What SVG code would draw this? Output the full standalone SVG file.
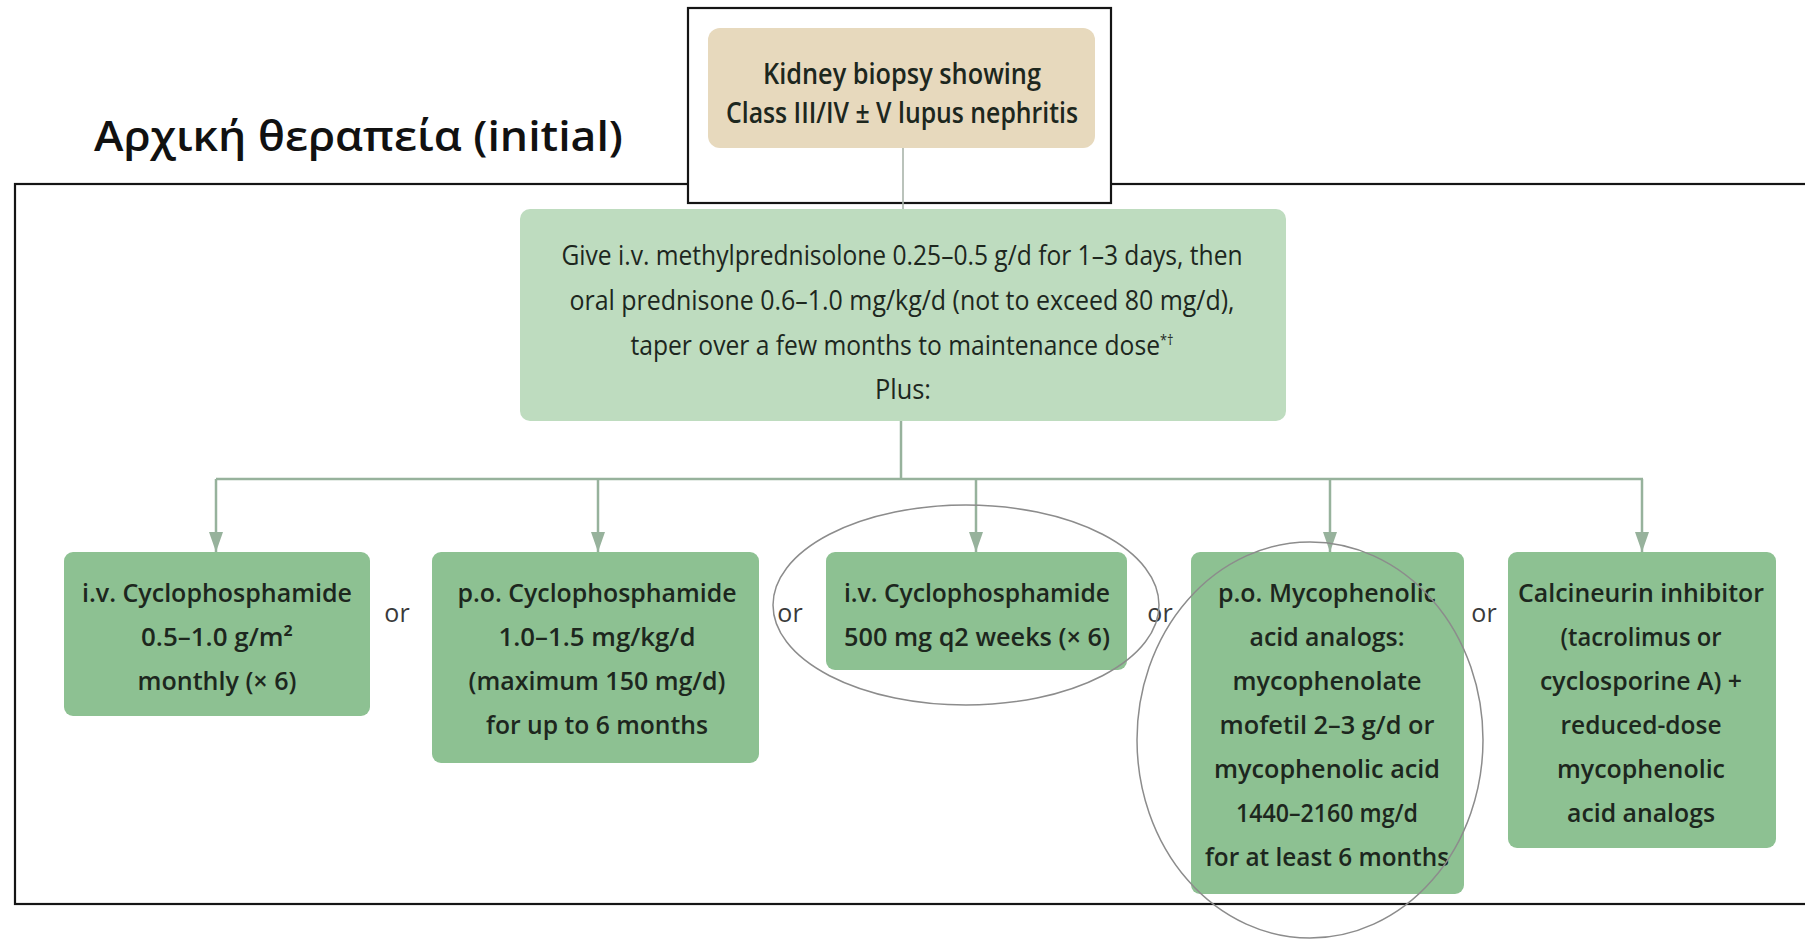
<svg xmlns="http://www.w3.org/2000/svg" width="1805" height="941" viewBox="0 0 1805 941">
  <defs>
    <style>
      .frame{fill:none;stroke:#151515;stroke-width:2.2}
      .topframe{fill:#ffffff;stroke:#151515;stroke-width:2.2}
      .beige{fill:#e7d9bd}
      .light{fill:#bedcbf}
      .dark{fill:#8dc192}
      .t{font-family:"Open Sans","Liberation Sans",sans-serif;fill:#1d271e;text-anchor:middle}
      .b{font-weight:600;font-size:25px}
      .m{font-weight:400;font-size:27px}
      .k{font-weight:600;font-size:29px}
      .or{font-family:"Open Sans","Liberation Sans",sans-serif;font-size:25px;fill:#3a3a3a;text-anchor:middle}
      .title{font-family:"Open Sans","Liberation Sans",sans-serif;font-weight:600;font-size:42px;fill:#111}
      .wire{fill:none;stroke:#97b29c;stroke-width:2.5}
      .stem{fill:none;stroke:#a9b4aa;stroke-width:1.6}
      .ring{fill:none;stroke:#8c8c8c;stroke-width:1.5}
    </style>
    <marker id="arrow" markerUnits="userSpaceOnUse" markerWidth="20" markerHeight="14" viewBox="0 0 20 14" refX="20" refY="7" orient="auto">
      <path d="M0,0 L20,7 L0,14 z" fill="#97b29c"/>
    </marker>
  </defs>

  <rect width="1805" height="941" fill="#ffffff"/>

  <!-- heading -->
  <text class="title" x="94" y="151" textLength="529" lengthAdjust="spacingAndGlyphs">Αρχική θεραπεία (initial)</text>

  <!-- outer frame (runs past the right edge) -->
  <rect class="frame" x="15" y="184" width="1800" height="720"/>

  <!-- frame around the starting node -->
  <rect class="topframe" x="688" y="8" width="423" height="195"/>

  <!-- connectors -->
  <g id="connectors">
    <line class="stem" x1="903" y1="147" x2="903" y2="209"/>
    <line class="wire" x1="901" y1="420" x2="901" y2="479"/>
    <line class="wire" x1="216" y1="479" x2="1643" y2="479"/>
    <line class="wire" x1="216" y1="479" x2="216" y2="552" marker-end="url(#arrow)"/>
    <line class="wire" x1="598" y1="479" x2="598" y2="552" marker-end="url(#arrow)"/>
    <line class="wire" x1="976" y1="479" x2="976" y2="552" marker-end="url(#arrow)"/>
    <line class="wire" x1="1330" y1="479" x2="1330" y2="552" marker-end="url(#arrow)"/>
    <line class="wire" x1="1642" y1="479" x2="1642" y2="552" marker-end="url(#arrow)"/>
  </g>

  <!-- biopsy -->
  <g id="biopsy">
    <rect class="beige" x="708" y="28" width="387" height="120" rx="12"/>
    <text class="t k" x="902" y="84" textLength="278" lengthAdjust="spacingAndGlyphs">Kidney biopsy showing</text>
    <text class="t k" x="902" y="123" textLength="352" lengthAdjust="spacingAndGlyphs">Class III/IV ± V lupus nephritis</text>
  </g>

  <!-- steroids -->
  <g id="steroids">
    <rect class="light" x="520" y="209" width="766" height="212" rx="10"/>
    <text class="t m" x="902" y="265" textLength="681" lengthAdjust="spacingAndGlyphs">Give i.v. methylprednisolone 0.25–0.5 g/d for 1–3 days, then</text>
    <text class="t m" x="902" y="310" textLength="665" lengthAdjust="spacingAndGlyphs">oral prednisone 0.6–1.0 mg/kg/d (not to exceed 80 mg/d),</text>
    <text class="t m" x="902" y="355" textLength="543" lengthAdjust="spacingAndGlyphs">taper over a few months to maintenance dose<tspan font-size="14" baseline-shift="10">*†</tspan></text>
    <text class="t m" x="903" y="399" textLength="56" lengthAdjust="spacingAndGlyphs">Plus:</text>
  </g>

  <!-- option 1 -->
  <g id="ivcyc-monthly">
    <rect class="dark" x="64" y="552" width="306" height="164" rx="9"/>
    <text class="t b" x="217" y="602" textLength="270" lengthAdjust="spacingAndGlyphs">i.v. Cyclophosphamide</text>
    <text class="t b" x="217" y="646" textLength="152" lengthAdjust="spacingAndGlyphs">0.5–1.0 g/m²</text>
    <text class="t b" x="217" y="690" textLength="159" lengthAdjust="spacingAndGlyphs">monthly (× 6)</text>
  </g>

  <!-- option 2 -->
  <g id="pocyc">
    <rect class="dark" x="432" y="552" width="327" height="211" rx="9"/>
    <text class="t b" x="597" y="602" textLength="279" lengthAdjust="spacingAndGlyphs">p.o. Cyclophosphamide</text>
    <text class="t b" x="597" y="646" textLength="197" lengthAdjust="spacingAndGlyphs">1.0–1.5 mg/kg/d</text>
    <text class="t b" x="597" y="690" textLength="257" lengthAdjust="spacingAndGlyphs">(maximum 150 mg/d)</text>
    <text class="t b" x="597" y="734" textLength="222" lengthAdjust="spacingAndGlyphs">for up to 6 months</text>
  </g>

  <!-- option 3 -->
  <g id="ivcyc-biweekly">
    <rect class="dark" x="826" y="552" width="301" height="118" rx="9"/>
    <text class="t b" x="977" y="602" textLength="266" lengthAdjust="spacingAndGlyphs">i.v. Cyclophosphamide</text>
    <text class="t b" x="977" y="646" textLength="266" lengthAdjust="spacingAndGlyphs">500 mg q2 weeks (× 6)</text>
  </g>

  <!-- option 4 -->
  <g id="mycophenolate">
    <rect class="dark" x="1191" y="552" width="273" height="342" rx="9"/>
    <text class="t b" x="1327" y="602" textLength="218" lengthAdjust="spacingAndGlyphs">p.o. Mycophenolic</text>
    <text class="t b" x="1327" y="646" textLength="155" lengthAdjust="spacingAndGlyphs">acid analogs:</text>
    <text class="t b" x="1327" y="690" textLength="189" lengthAdjust="spacingAndGlyphs">mycophenolate</text>
    <text class="t b" x="1327" y="734" textLength="215" lengthAdjust="spacingAndGlyphs">mofetil 2–3 g/d or</text>
    <text class="t b" x="1327" y="778" textLength="226" lengthAdjust="spacingAndGlyphs">mycophenolic acid</text>
    <text class="t b" x="1327" y="822" textLength="182" lengthAdjust="spacingAndGlyphs">1440–2160 mg/d</text>
    <text class="t b" x="1327" y="866" textLength="244" lengthAdjust="spacingAndGlyphs">for at least 6 months</text>
  </g>

  <!-- option 5 -->
  <g id="calcineurin">
    <rect class="dark" x="1508" y="552" width="268" height="296" rx="9"/>
    <text class="t b" x="1641" y="602" textLength="246" lengthAdjust="spacingAndGlyphs">Calcineurin inhibitor</text>
    <text class="t b" x="1641" y="646" textLength="161" lengthAdjust="spacingAndGlyphs">(tacrolimus or</text>
    <text class="t b" x="1641" y="690" textLength="202" lengthAdjust="spacingAndGlyphs">cyclosporine A) +</text>
    <text class="t b" x="1641" y="734" textLength="161" lengthAdjust="spacingAndGlyphs">reduced-dose</text>
    <text class="t b" x="1641" y="778" textLength="168" lengthAdjust="spacingAndGlyphs">mycophenolic</text>
    <text class="t b" x="1641" y="822" textLength="148" lengthAdjust="spacingAndGlyphs">acid analogs</text>
  </g>

  <!-- alternatives -->
  <g id="or-labels">
    <text class="or" x="397" y="622">or</text>
    <text class="or" x="790" y="622">or</text>
    <text class="or" x="1160" y="622">or</text>
    <text class="or" x="1484" y="622">or</text>
  </g>

  <!-- hand-drawn highlight rings -->
  <g id="highlights">
    <ellipse class="ring" cx="966" cy="605" rx="193" ry="100"/>
    <ellipse class="ring" cx="1310" cy="740" rx="173" ry="198"/>
  </g>
</svg>
